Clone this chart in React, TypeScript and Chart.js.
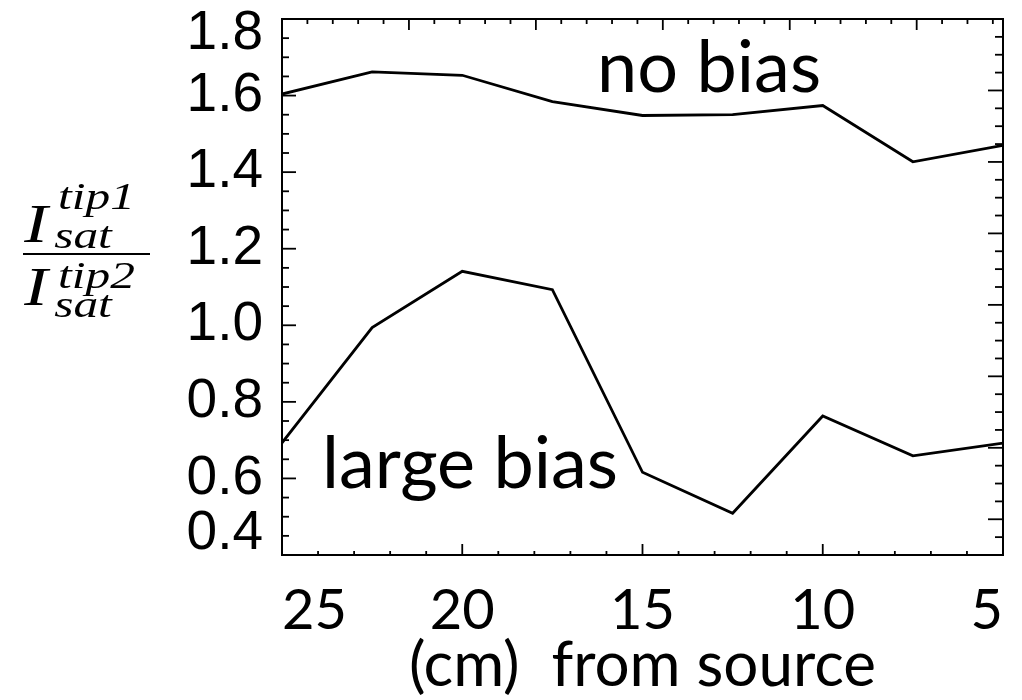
import React, { useEffect, useRef } from "react";
import { Chart, registerables } from "chart.js";

Chart.register(...registerables);

// ---- data ----
const distanceCm = [25, 22.5, 20, 17.5, 15, 12.5, 10, 7.5, 5];
const noBias = [1.604, 1.662, 1.653, 1.584, 1.548, 1.55, 1.574, 1.427, 1.47];
const largeBias = [0.693, 0.994, 1.141, 1.093, 0.616, 0.509, 0.763, 0.659, 0.692];
const xTickLabels = [5, 10, 15, 20, 25];
const yTickLabels = [0.4, 0.6, 0.8, 1.0, 1.2, 1.4, 1.6, 1.8];
const xTitle = "(cm)  from source";
const seriesNames = ["no bias", "large bias"];
const seriesLabelX = [16.26, 23.89];
const seriesLabelY = [1.61, 0.575];

const framePlugin = {
  id: "framePlugin",
  afterDraw(chart: any) {
    const { ctx, chartArea } = chart;
    const xs = chart.scales.x;
    const ys = chart.scales.y;
    const { left, right, top, bottom } = chartArea;
    const w = right - left;
    const h = bottom - top;
    ctx.save();
    ctx.strokeStyle = "#000";
    ctx.lineWidth = 2;
    ctx.strokeRect(left, top, w, h);
    ctx.lineWidth = 1.8;
    const line = (x1: number, y1: number, x2: number, y2: number) => {
      ctx.beginPath();
      ctx.moveTo(x1, y1);
      ctx.lineTo(x2, y2);
      ctx.stroke();
    };
    // bottom ticks (every 1 cm, major every 5)
    for (let v = 5; v <= 25; v++) {
      const px = xs.getPixelForValue(v);
      const len = v % 5 === 0 ? 11 : 4;
      line(px, bottom, px, bottom - len);
    }
    // left ticks (every 0.05, major every 0.2)
    for (let k = 0; k <= 28; k++) {
      const v = 0.4 + k * 0.05;
      const py = ys.getPixelForValue(v);
      const len = k % 4 === 0 ? 14 : 7;
      line(left, py, left + len, py);
    }
    // top ticks (secondary axis spacing)
    const topStep = w / 28.4;
    for (let k = 1; left + k * topStep < right - 2; k++) {
      const px = left + k * topStep;
      const len = k % 5 === 0 ? 11 : 5;
      line(px, top, px, top + len);
    }
    // right ticks (secondary axis spacing)
    const rStep = h / 30;
    for (let k = 1; k < 30; k++) {
      const py = bottom - k * rStep;
      const len = k % 4 === 2 ? 15 : 8;
      line(right, py, right - len, py);
    }
    // y tick labels
    ctx.fillStyle = "#000";
    ctx.font = '55px "Liberation Sans", Arial, sans-serif';
    ctx.textAlign = "right";
    ctx.textBaseline = "middle";
    yTickLabels.forEach((v) => {
      let py = ys.getPixelForValue(v);
      py = Math.max(py, top + 15);
      py = Math.min(py, bottom - 21);
      ctx.fillText(v.toFixed(1), left - 19, py);
    });
    // series labels
    ctx.font = '72px Lato, "Open Sans", sans-serif';
    ctx.textAlign = "left";
    ctx.textBaseline = "alphabetic";
    seriesNames.forEach((name, i) => {
      ctx.fillText(name, xs.getPixelForValue(seriesLabelX[i]), ys.getPixelForValue(seriesLabelY[i]));
    });
    // y-axis fraction title
    ctx.save();
    ctx.translate(15, 0);
    ctx.scale(1.3, 1);
    const big = 'italic 54px "Liberation Serif", "DejaVu Serif", serif';
    const small = 'italic 38px "Liberation Serif", "DejaVu Serif", serif';
    ctx.textAlign = "left";
    ctx.font = big;
    ctx.fillText("I", 1, 234);
    ctx.fillText("I", 1, 297);
    ctx.font = small;
    ctx.fillText("tip1", 27, 201);
    ctx.fillText("sat", 24, 240);
    ctx.fillText("tip2", 27, 280);
    ctx.fillText("sat", 24, 309);
    ctx.restore();
    ctx.lineWidth = 2;
    line(15, 246, 142, 246);
    ctx.restore();
  },
};

export default function App() {
  const ref = useRef<HTMLCanvasElement | null>(null);
  useEffect(() => {
    if (!ref.current) return;
    const chart = new Chart(ref.current, {
      type: "line",
      data: {
        datasets: [
          {
            label: seriesNames[0],
            data: distanceCm.map((x, i) => ({ x, y: noBias[i] })),
            borderColor: "#000",
            borderWidth: 2.8,
            pointRadius: 0,
            tension: 0,
            fill: false,
          },
          {
            label: seriesNames[1],
            data: distanceCm.map((x, i) => ({ x, y: largeBias[i] })),
            borderColor: "#000",
            borderWidth: 2.8,
            pointRadius: 0,
            tension: 0,
            fill: false,
          },
        ],
      },
      options: {
        animation: false,
        responsive: false,
        devicePixelRatio: 1,
        layout: { padding: { top: 11, right: 11, left: 0, bottom: 0 } },
        plugins: { legend: { display: false }, tooltip: { enabled: false }, title: { display: false } },
        scales: {
          x: {
            type: "linear",
            position: "bottom",
            reverse: true,
            min: 5,
            max: 25,
            grid: { display: false, drawTicks: false },
            border: { display: false },
            afterBuildTicks: (s: any) => {
              s.ticks = xTickLabels.map((v) => ({ value: v }));
            },
            afterFit: (s: any) => {
              s.height = 145;
              s.paddingLeft = 0;
              s.paddingRight = 0;
            },
            ticks: {
              align: "inner",
              maxRotation: 0,
              autoSkip: false,
              padding: 22,
              color: "#000",
              font: { family: 'Lato, "Open Sans", sans-serif', size: 56 },
              callback: (v: any) => String(v),
            },
            title: {
              display: true,
              text: xTitle,
              color: "#000",
              font: { family: 'Lato, "Open Sans", sans-serif', size: 62, lineHeight: 1.05 },
              padding: { top: 0, bottom: 1 },
            },
          },
          y: {
            type: "linear",
            min: 0.4,
            max: 1.8,
            grid: { display: false, drawTicks: false },
            border: { display: false },
            ticks: { display: false, stepSize: 0.2 },
            afterFit: (s: any) => {
              s.width = 274;
              s.paddingTop = 0;
              s.paddingBottom = 0;
            },
          },
        },
      },
      plugins: [framePlugin],
    } as any);
    return () => chart.destroy();
  }, []);
  return (
    <canvas ref={ref} width={1006} height={692} style={{ display: "block", width: 1006, height: 692 }} />
  );
}
